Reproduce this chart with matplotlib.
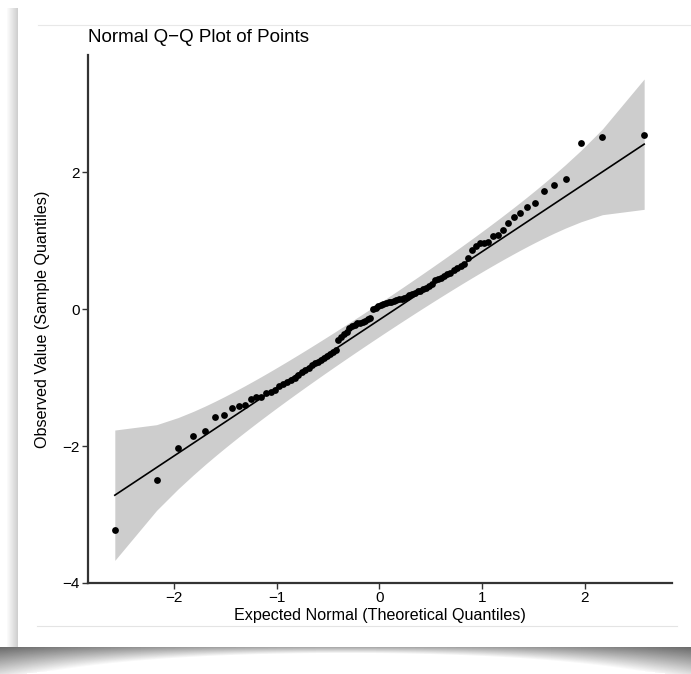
import numpy as np
import matplotlib
matplotlib.use("Agg")
import matplotlib.pyplot as plt

plt.rcParams['font.family'] = ['Liberation Sans', 'DejaVu Sans']

# expected normal quantiles (ppoints, n = 100)
theoretical = [
    -2.576, -2.170, -1.960, -1.812, -1.695, -1.598, -1.514, -1.440, -1.372, -1.311,
    -1.254, -1.200, -1.150, -1.103, -1.058, -1.015, -0.974, -0.935, -0.896, -0.860,
    -0.824, -0.789, -0.755, -0.722, -0.690, -0.659, -0.628, -0.598, -0.568, -0.539,
    -0.510, -0.482, -0.454, -0.426, -0.399, -0.372, -0.345, -0.319, -0.292, -0.266,
    -0.240, -0.215, -0.189, -0.164, -0.138, -0.113, -0.088, -0.063, -0.038, -0.013,
    0.013, 0.038, 0.063, 0.088, 0.113, 0.138, 0.164, 0.189, 0.215, 0.240,
    0.266, 0.292, 0.319, 0.345, 0.372, 0.399, 0.426, 0.454, 0.482, 0.510,
    0.539, 0.568, 0.598, 0.628, 0.659, 0.690, 0.722, 0.755, 0.789, 0.824,
    0.860, 0.896, 0.935, 0.974, 1.015, 1.058, 1.103, 1.150, 1.200, 1.254,
    1.311, 1.372, 1.440, 1.514, 1.598, 1.695, 1.812, 1.960, 2.170, 2.576,
]

# observed (sorted sample) values
observed = [
    -3.23, -2.50, -2.03, -1.85, -1.78, -1.58, -1.54, -1.45, -1.41, -1.40,
    -1.31, -1.29, -1.28, -1.23, -1.21, -1.18, -1.13, -1.10, -1.07, -1.04,
    -1.00, -0.96, -0.92, -0.89, -0.86, -0.82, -0.79, -0.77, -0.74, -0.72,
    -0.68, -0.65, -0.62, -0.60, -0.45, -0.41, -0.37, -0.33, -0.27, -0.25,
    -0.23, -0.21, -0.20, -0.19, -0.17, -0.15, -0.13, 0.00, 0.02, 0.04,
    0.06, 0.08, 0.09, 0.10, 0.11, 0.12, 0.13, 0.14, 0.15, 0.16,
    0.18, 0.20, 0.22, 0.24, 0.26, 0.27, 0.29, 0.31, 0.34, 0.36,
    0.42, 0.44, 0.46, 0.49, 0.51, 0.53, 0.57, 0.60, 0.63, 0.66,
    0.74, 0.86, 0.92, 0.96, 0.97, 0.98, 1.07, 1.08, 1.15, 1.26,
    1.34, 1.41, 1.49, 1.55, 1.73, 1.81, 1.90, 2.43, 2.51, 2.54,
]

# robust reference line
line_intercept = -0.155
line_slope = 0.995

x_ticks = [-2, -1, 0, 1, 2]
y_ticks = [-4, -2, 0, 2]

title = "Normal Q\u2212Q Plot of Points"
x_label = "Expected Normal (Theoretical Quantiles)"
y_label = "Observed Value (Sample Quantiles)"

W, H = 691, 674
fig = plt.figure(figsize=(W / 100, H / 100), dpi=100)

# card with drop shadow behind the plot
bg = np.ones((H, W))
for x in range(7, 18):
    bg[8:652, x] = 0.98 - 0.17 * (x - 7) / 10
cx = np.arange(W)
rel = ((cx - W / 2) / (W / 2)) ** 2
depth = 9 + 20 * rel
for y in range(647, H):
    t = (y - 647) / depth
    val = 0.42 + 0.5 * t + 0.25 * (1 - rel)
    val = np.where(t < 1, np.clip(val, 0, 1), 1.0)
    bg[y, :] = np.minimum(bg[y, :], val)
bg[3:647, 18:] = 1.0

bgax = fig.add_axes([0, 0, 1, 1], zorder=-1)
bgax.imshow(bg, cmap="gray", vmin=0, vmax=1, aspect="auto",
            extent=(0, W, H, 0), interpolation="bilinear")
bgax.plot([38, W], [25, 25], color="#e8e8e8", lw=0.8)
bgax.plot([37, 677], [626, 626], color="#e4e4e4", lw=0.8)
bgax.set_xlim(0, W)
bgax.set_ylim(H, 0)
bgax.axis("off")

ax = fig.add_axes([88 / W, 1 - 583 / H, (672 - 88) / W, (583 - 55) / H])
ax.set_facecolor("none")

z = np.array(theoretical)
obs = np.array(observed)
n = len(z)
p = (np.arange(1, n + 1) - 0.5) / n
dens = np.exp(-z ** 2 / 2) / np.sqrt(2 * np.pi)
fit = line_intercept + line_slope * z
se = (line_slope / dens) * np.sqrt(p * (1 - p) / n)

ax.fill_between(z, fit - 1.96 * se, fit + 1.96 * se, color="#cdcdcd", lw=0, zorder=1)
ax.plot(z, fit, color="black", lw=1.2, zorder=2)
ax.scatter(z, obs, s=24, color="black", lw=0, zorder=3)

ax.set_xlim(-2.837, 2.847)
ax.set_ylim(-4.0, 3.71)
ax.set_xticks(x_ticks)
ax.set_yticks(y_ticks)
ax.set_xticklabels([str(v).replace("-", "\u2212") for v in x_ticks])
ax.set_yticklabels([str(v).replace("-", "\u2212") for v in y_ticks])
for side in ["top", "right"]:
    ax.spines[side].set_visible(False)
for side in ["left", "bottom"]:
    ax.spines[side].set_color("#333333")
    ax.spines[side].set_linewidth(1.6)
ax.tick_params(direction="out", length=4, width=1, color="#333333",
               labelsize=11, pad=2)

ax.set_xlabel(x_label, fontsize=11.6, labelpad=2)
ax.set_ylabel(y_label, fontsize=11.6, labelpad=9)
fig.text(88 / W, 1 - 37 / H, title, fontsize=13.5, ha="left", va="center")

fig.savefig("out.png", dpi=100)
